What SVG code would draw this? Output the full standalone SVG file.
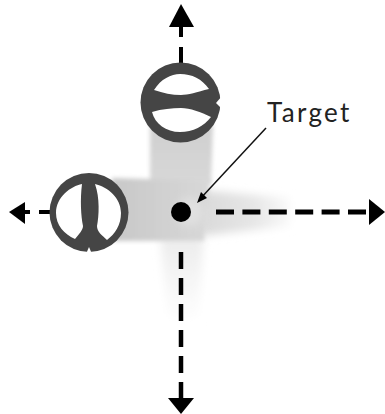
<svg xmlns="http://www.w3.org/2000/svg" width="385" height="414" viewBox="0 0 385 414">
<defs>
<filter id="soft" x="-20%" y="-20%" width="140%" height="140%"><feGaussianBlur stdDeviation="2"/></filter>
<filter id="softer" x="-30%" y="-30%" width="160%" height="160%"><feGaussianBlur stdDeviation="4"/></filter>
<linearGradient id="fadeR" x1="0" x2="1" y1="0" y2="0"><stop offset="0" stop-color="#dadada"/><stop offset="0.6" stop-color="#e6e6e6"/><stop offset="1" stop-color="#fafafa"/></linearGradient>
<linearGradient id="fadeD" x1="0" x2="0" y1="0" y2="1"><stop offset="0" stop-color="#ececec"/><stop offset="1" stop-color="#fefefe"/></linearGradient>
<linearGradient id="fadeV" x1="0" x2="0" y1="0" y2="1"><stop offset="0" stop-color="#cfcfcf"/><stop offset="1" stop-color="#d8d8d8"/></linearGradient>
<linearGradient id="fadeL" x1="0" x2="1" y1="0" y2="0"><stop offset="0" stop-color="#c8c8c8"/><stop offset="1" stop-color="#d8d8d8"/></linearGradient>
</defs>
<style>
.dash{fill:none;stroke:#000;stroke-width:4.500}
.head{fill:#000}
.scope{fill:#454545}
.hole{fill:#fff}
</style>
<rect width="385" height="414" fill="#fff"/>
<g id="beams">
<path d="M200 190L290 198L290 226L200 236Z" fill="url(#fadeR)" filter="url(#softer)"/>
<path d="M160 236H204L198 320H168Z" fill="url(#fadeD)" filter="url(#softer)"/>
<path d="M150 125H213L211 184H150Z" fill="url(#fadeV)" filter="url(#soft)"/>
<path d="M112 178L150 179H210L204 241H112Z" fill="url(#fadeL)" filter="url(#soft)"/>
<circle cx="190" cy="212" r="14" fill="#e0e0e0" filter="url(#softer)"/>
</g>
<g id="connectors">
<path class="dash" style="stroke-width:4" d="M181 63V47M181 37V26"/>
<polygon class="head" points="181,4 194,27 169,27"/>
<path class="dash" style="stroke-width:4" d="M52 212H39M30 212H24"/>
<polygon class="head" points="9,212 25,202 25,224"/>
<path class="dash" style="stroke-width:5" d="M216 212H370" stroke-dasharray="18 8.400"/>
<polygon class="head" points="385,212 369,199 369,225"/>
<path class="dash" d="M181 252V398" stroke-dasharray="17 9"/>
<polygon class="head" points="181,414 168,398 194,398"/>
<path d="M266 128L200 199" fill="none" stroke="#111" stroke-width="1.500"/>
<polygon class="head" points="197,203 201,192 207,198"/>
</g>
<g id="top-scope">
<circle class="scope" cx="180.500" cy="102.500" r="40"/>
<path class="hole" d="M154 90C161 79 171 74 180 74C192 74 202 79 209 89C197 92 188 95 181 95C172 95 163 93 154 90Z"/>
<path class="hole" d="M152 112C162 109 172 108 181 108C190 108 201 112 211 117C204 126 193 132 180 132C166 132 155 124 152 112Z"/>
<path class="hole" d="M222 96L216 103L222 109L226 103Z"/>
</g>
<g id="left-scope">
<circle class="scope" cx="89" cy="212.500" r="39.500"/>
<path class="hole" d="M82 184C71 186 56 197 56 213C56 225 64 234 75 239C79 234 83 230 83 226C81 216 80 200 82 184Z"/>
<path class="hole" d="M95 184C108 187 121 198 121 213C121 225 115 234 107 240C102 235 97 232 97 226C99 216 100 198 95 184Z"/>
<path class="hole" d="M86 254L89 247L92 254Z"/>
</g>
<g id="target">
<circle cx="181" cy="212" r="10" fill="#000"/>
<text x="267" y="122" font-family="Lato, sans-serif" font-size="26" letter-spacing="2.300" fill="#222">Target</text>
</g>
</svg>
